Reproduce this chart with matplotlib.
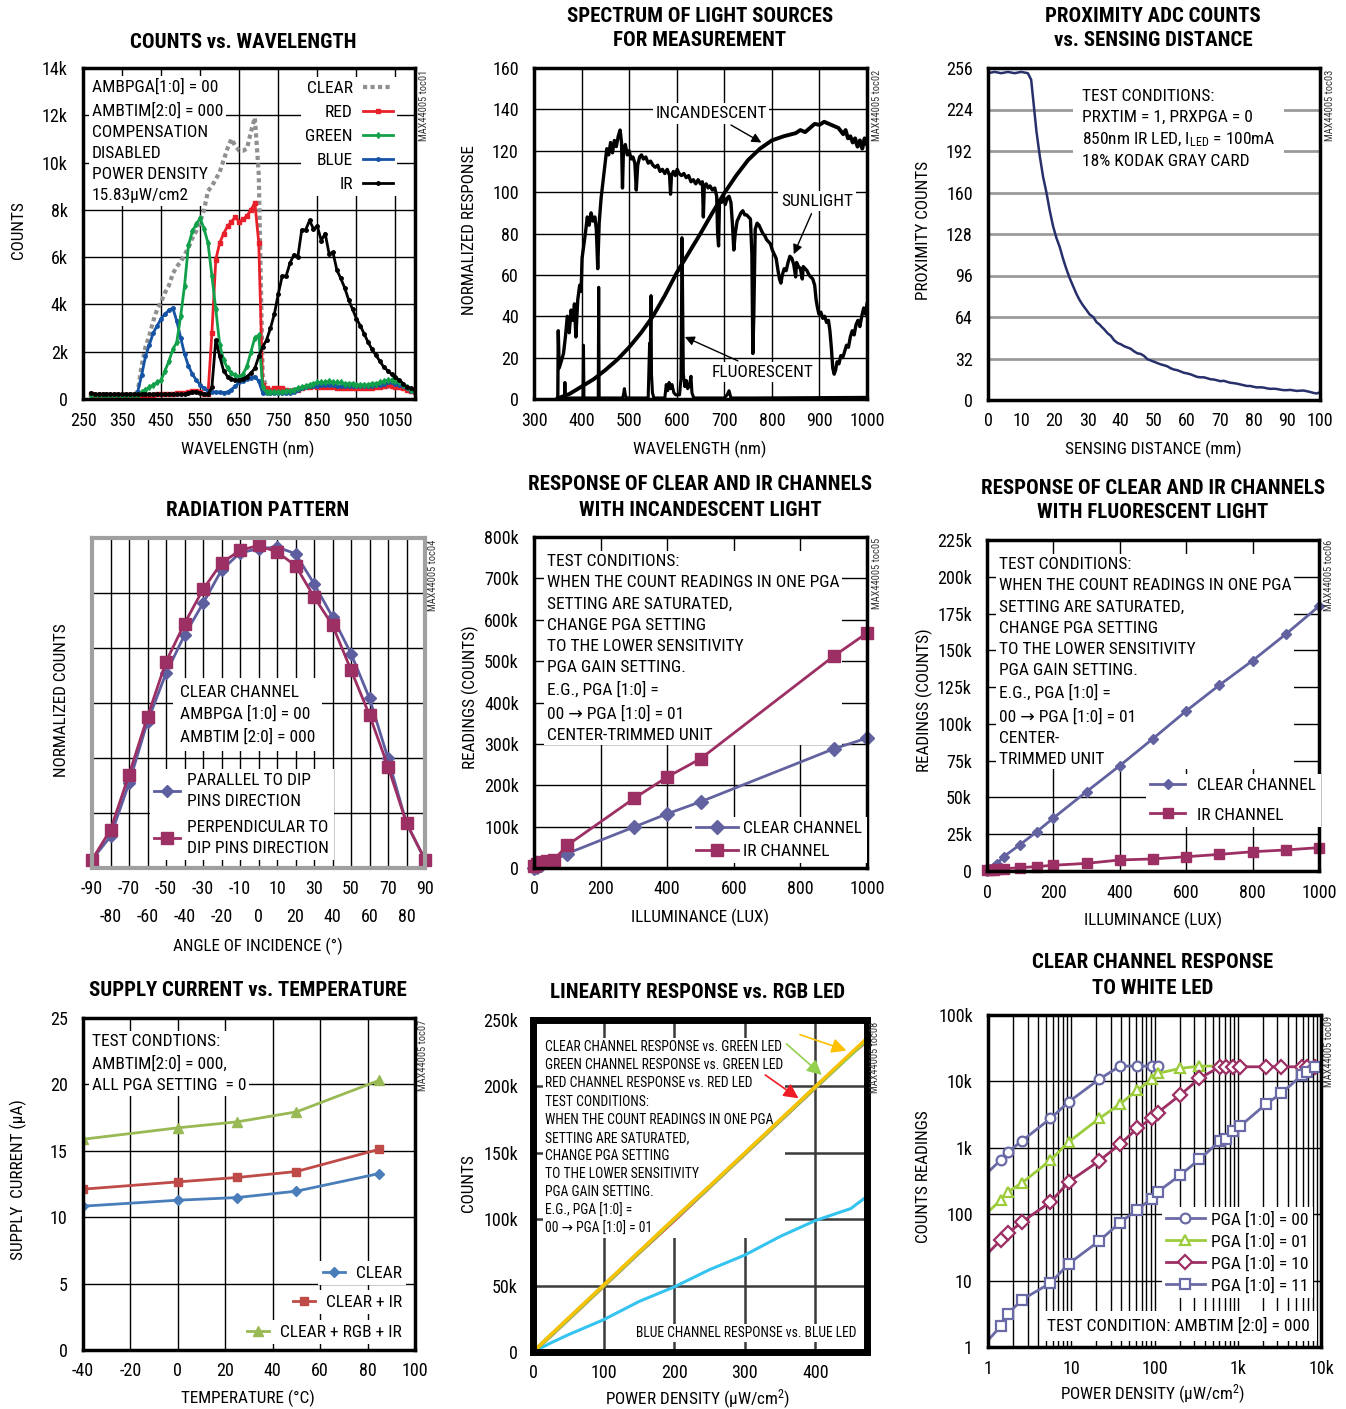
import matplotlib.pyplot as plt
from matplotlib import font_manager
from matplotlib.ticker import NullFormatter, LogLocator

# pick a condensed face if one is installed
entries = font_manager.fontManager.ttflist
names = {f.name for f in entries}
FONT, STRETCH = 'Liberation Sans', 'normal'
for p in ['Liberation Sans Narrow', 'Roboto Condensed', 'Open Sans Condensed',
          'Noto Sans Condensed', 'DejaVu Sans Condensed']:
    if p in names:
        FONT = p
        break
else:
    cond = {f.name for f in entries
            if str(f.stretch) in ('condensed', 'semi-condensed', 'extra-condensed', 'ultra-condensed')}
    for p in ['Roboto', 'Noto Sans', 'Open Sans', 'DejaVu Sans', 'Liberation Sans']:
        if p in cond:
            FONT, STRETCH = p, 'condensed'
            break
plt.rcParams['font.family'] = [FONT, 'DejaVu Sans']
plt.rcParams['font.stretch'] = STRETCH
plt.rcParams['axes.unicode_minus'] = False
plt.rcParams['mathtext.fontset'] = 'custom'
plt.rcParams['mathtext.rm'] = FONT
plt.rcParams['mathtext.it'] = FONT

# ---------------- data ----------------
# panel 1: counts vs wavelength (k counts)
WL = [270, 280, 290, 300, 310, 320, 330, 340, 350, 360,
      370, 380, 390, 400, 410, 420, 430, 440, 450, 460,
      470, 480, 490, 500, 510, 520, 530, 540, 550, 560,
      570, 580, 590, 600, 610, 620, 630, 640, 650, 660,
      670, 680, 690, 700, 710, 720, 730, 740, 750, 760,
      770, 780, 790, 800, 810, 820, 830, 840, 850, 860,
      870, 880, 890, 900, 910, 920, 930, 940, 950, 960,
      970, 980, 990, 1000, 1010, 1020, 1030, 1040, 1050, 1060,
      1070, 1080, 1090, 1100]
CLEAR_CNT = [0.2, 0.2, 0.2, 0.2, 0.2, 0.2, 0.2, 0.2, 0.2, 0.2,
             0.2, 0.2, 0.3, 1.4, 2.2, 2.7, 3.3, 3.8, 4.1, 4.5,
             4.8, 5.3, 5.6, 5.8, 6.1, 6.4, 6.8, 7.1, 7.5, 8.0,
             8.8, 9.0, 9.3, 9.6, 10.1, 10.6, 11.0, 10.7, 10.5, 10.5,
             10.6, 11.3, 11.9, 9.5, 1.0, 0.45, 0.4, 0.45, 0.45, 0.45,
             0.4, 0.35, 0.4, 0.4, 0.45, 0.5, 0.5, 0.5, 0.5, 0.5,
             0.5, 0.5, 0.5, 0.5, 0.5, 0.5, 0.5, 0.5, 0.5, 0.5,
             0.5, 0.5, 0.5, 0.5, 0.5, 0.5, 0.5, 0.5, 0.5, 0.5,
             0.4, 0.35, 0.3, 0.3]
RED_CNT = [0.2, 0.15, 0.15, 0.15, 0.15, 0.15, 0.15, 0.15, 0.15, 0.15,
           0.15, 0.15, 0.15, 0.15, 0.15, 0.15, 0.15, 0.2, 0.2, 0.2,
           0.2, 0.2, 0.25, 0.25, 0.25, 0.3, 0.35, 0.35, 0.3, 0.2,
           0.2, 2.8, 5.9, 6.6, 7.0, 7.3, 7.5, 7.7, 7.5, 7.6,
           7.75, 8.0, 8.3, 6.6, 0.6, 0.45, 0.4, 0.45, 0.45, 0.45,
           0.4, 0.35, 0.4, 0.4, 0.45, 0.5, 0.5, 0.55, 0.5, 0.5,
           0.5, 0.5, 0.5, 0.45, 0.45, 0.45, 0.45, 0.45, 0.45, 0.45,
           0.45, 0.45, 0.45, 0.5, 0.5, 0.55, 0.6, 0.55, 0.5, 0.5,
           0.45, 0.4, 0.35, 0.3]
GREEN_CNT = [0.15, 0.15, 0.15, 0.15, 0.15, 0.15, 0.15, 0.15, 0.15, 0.15,
             0.15, 0.15, 0.15, 0.3, 0.4, 0.5, 0.6, 0.7, 0.8, 1.2,
             1.6, 2.1, 2.4, 3.5, 4.8, 6.5, 7.1, 7.4, 7.65, 7.2,
             6.6, 5.2, 3.8, 2.3, 1.65, 1.3, 1.1, 1.0, 0.95, 1.05,
             1.4, 2.0, 2.6, 2.7, 0.5, 0.3, 0.3, 0.3, 0.3, 0.3,
             0.35, 0.35, 0.4, 0.45, 0.5, 0.55, 0.6, 0.65, 0.7, 0.7,
             0.7, 0.75, 0.7, 0.7, 0.7, 0.65, 0.65, 0.65, 0.6, 0.6,
             0.6, 0.6, 0.65, 0.65, 0.7, 0.75, 0.8, 0.8, 0.75, 0.7,
             0.6, 0.5, 0.4, 0.3]
BLUE_CNT = [0.15, 0.15, 0.15, 0.15, 0.15, 0.15, 0.15, 0.15, 0.15, 0.15,
            0.15, 0.15, 0.3, 1.0, 1.8, 2.3, 2.8, 3.1, 3.4, 3.6,
            3.75, 3.85, 3.3, 2.6, 1.9, 1.4, 1.05, 0.8, 0.6, 0.45,
            0.35, 0.3, 0.3, 0.28, 0.27, 0.3, 0.4, 0.55, 0.7, 0.75,
            0.85, 0.9, 0.95, 0.75, 0.25, 0.25, 0.25, 0.25, 0.25, 0.25,
            0.25, 0.25, 0.3, 0.4, 0.45, 0.5, 0.55, 0.55, 0.55, 0.6,
            0.6, 0.6, 0.6, 0.55, 0.55, 0.55, 0.55, 0.55, 0.55, 0.55,
            0.55, 0.55, 0.55, 0.6, 0.6, 0.65, 0.7, 0.7, 0.65, 0.6,
            0.55, 0.45, 0.35, 0.3]
IR_CNT = [0.25, 0.2, 0.2, 0.2, 0.2, 0.2, 0.2, 0.2, 0.2, 0.2,
          0.2, 0.2, 0.2, 0.2, 0.2, 0.2, 0.2, 0.2, 0.2, 0.2,
          0.2, 0.2, 0.2, 0.2, 0.2, 0.25, 0.3, 0.3, 0.25, 0.2,
          0.2, 0.5, 2.5, 1.8, 1.2, 0.95, 0.85, 0.8, 0.8, 0.85,
          0.95, 1.1, 1.3, 1.8, 2.2, 2.5, 3.0, 3.6, 4.45, 5.2,
          5.2, 5.75, 6.1, 6.0, 7.15, 7.15, 7.55, 7.2, 7.3, 6.7,
          7.0, 6.15, 6.2, 5.45, 5.1, 4.7, 4.2, 3.8, 3.4, 3.1,
          2.75, 2.4, 2.1, 1.85, 1.6, 1.35, 1.2, 1.05, 0.92, 0.8,
          0.65, 0.5, 0.45, 0.4]

# panel 2: spectrum of light sources
INC_WL = [350, 375, 400, 425, 450, 475, 500, 525, 550, 575, 600, 625, 650, 675,
          700, 725, 750, 775, 800, 825, 850, 860, 870, 880, 890, 900, 910, 920,
          930, 940, 950, 955, 960, 965, 970, 975, 980, 985, 990, 995, 1000]
INC_RESP = [0.3, 2.5, 6, 9.5, 14, 19, 25, 32, 40, 50, 61, 70.5, 80, 90,
            99.5, 108, 115.5, 121, 125, 127, 128.5, 130, 129, 131, 133, 132.5, 134, 133,
            132, 131, 128, 130, 126, 127, 124, 126, 122, 125, 121, 126, 123]
SUN_WL = [350, 351, 353, 357, 362, 366, 370, 374, 378, 382, 385, 388, 392, 396, 399,
          401, 405, 408, 412, 416, 420, 424, 428, 431, 434, 437, 441, 445, 449, 453,
          457, 461, 465, 469, 473, 477, 481, 484, 486, 488, 492, 496, 500, 504, 508,
          512, 515, 518, 522, 526, 530, 535, 540, 545, 550, 555, 560, 565, 570, 575,
          580, 585, 587, 589, 593, 597, 601, 605, 610, 615, 620, 625, 630, 635, 640,
          645, 650, 654, 656, 658, 662, 666, 670, 675, 680, 684, 686, 688, 690, 694,
          698, 702, 706, 710, 714, 717, 720, 723, 727, 731, 735, 739, 743, 747, 751,
          755, 758, 760, 762, 765, 769, 773, 777, 781, 785, 789, 793, 797, 801, 805,
          809, 813, 816, 819, 822, 826, 830, 834, 838, 842, 846, 850, 852, 856, 860,
          864, 866, 870, 874, 878, 882, 886, 890, 893, 896, 899, 903, 907, 911, 915,
          919, 922, 925, 928, 931, 934, 937, 941, 945, 949, 953, 957, 961, 965, 969,
          973, 977, 981, 985, 989, 993, 997, 1000]
SUN_RESP = [0, 33, 15, 18, 22, 30, 40, 32, 43, 38, 46, 30, 48, 55, 52,
            68, 75, 80, 88, 84, 90, 86, 88, 82, 63, 85, 97, 105, 113, 121,
            118, 124, 119, 125, 122, 127, 130, 124, 102, 120, 123, 118, 120, 116, 117,
            114, 101, 113, 117, 118, 116, 117, 114, 115, 113, 112, 113, 110, 111, 109,
            111, 108, 99, 108, 110, 108, 111, 109, 108, 109, 107, 108, 105, 106, 104,
            106, 104, 105, 88, 103, 104, 102, 103, 101, 102, 98, 80, 74, 96, 95,
            98, 94, 97, 98, 95, 85, 72, 80, 86, 88, 90, 91, 89, 89, 88,
            87, 70, 22, 40, 82, 85, 84, 82, 80, 79, 77, 76, 75, 72, 70,
            68, 62, 58, 56, 60, 63, 62, 66, 69, 68, 65, 59, 66, 64, 63,
            58, 64, 63, 62, 60, 59, 58, 55, 48, 44, 41, 42, 39, 40, 37,
            38, 33, 25, 15, 12, 14, 18, 17, 21, 20, 23, 26, 25, 30, 33,
            31, 36, 38, 35, 40, 44, 41, 46]
FLU_WL = [350, 364, 365, 366, 403, 404, 405, 435, 436, 437, 486, 488, 490, 492, 494,
          540, 543, 544, 545, 546, 547, 549, 552, 575, 578, 581, 584, 587, 590, 594,
          598, 606, 609, 611, 612, 614, 617, 620, 623, 626, 630, 632, 636, 700, 706,
          710, 714, 760, 1000]
FLU_RESP = [0.5, 0.5, 8, 0.5, 0.5, 26, 0.5, 0.5, 54, 0.5, 0.5, 2, 5, 2, 0.5,
            0.5, 27, 10, 35, 50, 12, 3, 0.5, 0.5, 7, 4, 8, 5, 7, 3,
            2, 2, 10, 78, 62, 12, 6, 9, 5, 6, 11, 3, 0.5, 0.5, 2,
            4, 0.5, 0.5, 0.8]

# panel 3: proximity counts vs distance
DIST = [0, 2, 4, 6, 8, 10, 12, 13, 13.6, 14.6, 15.6, 16.6, 17.6, 18.6, 19.6,
        20.6, 21.6, 22.6, 23.6, 24.6, 25.6, 26.6, 27.6, 28.6, 29.6, 30.6, 31.7,
        32.7, 33.7, 34, 35, 36, 37, 38, 39, 40, 41, 42, 43, 44, 45, 46, 47, 48,
        49, 50, 51, 52, 53, 54, 55, 56, 57, 58, 59, 60, 61, 62, 63, 64, 65, 66,
        67, 68, 69, 70, 71, 72, 73, 74, 75, 76, 77, 78, 79, 80, 81, 82, 83, 84,
        85, 86, 87, 88, 89, 90, 91, 92, 93, 94, 95, 96, 97, 98, 99, 100]
PROX = [252, 253, 252, 253, 252, 253, 252, 247, 232, 207, 188, 172, 160, 146, 134,
        125, 118, 109, 101, 94, 88, 82, 77, 73, 69.6, 66, 64,
        60, 58, 57, 54.5, 51.5, 49.5, 46, 44, 43, 41.5, 40.5, 39.5, 37.5, 36, 35.5, 34, 31.5,
        30.5, 29.5, 28.5, 27.5, 26.8, 26, 24.5, 23.5, 23, 22, 21, 20.5, 19.8, 18.8, 17.8, 17.5, 17.5, 16.8,
        16, 15.8, 15.2, 14.5, 14.8, 14, 13.3, 13, 12.6, 12, 11.4, 10.8, 10.8, 10.2, 9.7, 9.8, 9.6, 9,
        8.6, 8.7, 8.5, 8.0, 7.6, 7.6, 7.8, 7.4, 7.0, 7.2, 7.3, 6.8, 6.2, 5.5, 5.0, 6.0]

# panel 4: radiation pattern
ANGLE = [-90, -80, -70, -60, -50, -40, -30, -20, -10, 0, 10, 20, 30, 40, 50, 60, 70, 80, 90]
PARALLEL = [0.03, 0.115, 0.308, 0.532, 0.708, 0.847, 0.962, 1.083, 1.146, 1.161,
            1.167, 1.143, 1.034, 0.913, 0.78, 0.617, 0.399, 0.163, 0.03]
PERPEND = [0.03, 0.139, 0.339, 0.55, 0.75, 0.889, 1.013, 1.109, 1.155, 1.173,
           1.149, 1.10, 0.986, 0.883, 0.72, 0.556, 0.369, 0.163, 0.03]

# panel 5: incandescent light (k counts)
LUX5_CLEAR = [0, 10, 20, 50, 100, 300, 400, 500, 900, 1000]
CLEAR5 = [0, 3, 8, 15, 35, 99, 131, 160, 288, 314]
LUX5_IR = [0, 10, 20, 40, 60, 100, 300, 400, 500, 900, 1000]
IR5 = [5, 10, 15, 18, 20, 55, 168, 220, 264, 512, 568]

# panel 6: fluorescent light (k counts)
LUX6 = [0, 10, 20, 30, 50, 100, 150, 200, 300, 400, 500, 600, 700, 800, 900, 1000]
CLEAR6 = [0, 1.5, 3, 5, 9.7, 18, 26.7, 36, 54, 71.6, 90, 108.8, 126.4, 143, 161, 180]
IR6 = [0.5, 0.8, 1, 1.2, 1.5, 2.3, 3, 3.9, 5.2, 7.5, 8.2, 9.7, 11.3, 13.1, 14.3, 15.9]

# panel 7: supply current vs temperature
TEMP = [-40, 0, 25, 50, 85]
I_CLEAR = [10.83, 11.28, 11.48, 11.96, 13.29]
I_CLEAR_IR = [12.11, 12.66, 12.99, 13.44, 15.12]
I_CLEAR_RGB_IR = [15.87, 16.73, 17.18, 17.93, 20.31]

# panel 8: linearity vs RGB LED (k counts)
PD8 = [0, 25, 50, 75, 100, 150, 200, 250, 300, 350, 400, 450, 470]
LIN_CLEAR = [0, 13, 25.5, 38, 50.5, 75.5, 100.5, 125, 150, 175, 200, 225, 235]
LIN_GREEN = [0, 12.5, 25, 37.5, 50, 75, 100, 124.5, 149.5, 174.5, 199.5, 224, 234]
LIN_RED = [0, 12, 24.5, 37, 49.5, 74.5, 99, 124, 149, 174, 199, 224, 233]
PD8_BLUE = [0, 25, 50, 100, 150, 200, 250, 300, 350, 400, 450, 470]
LIN_BLUE = [0, 6.8, 13, 24.3, 38, 49, 62, 73, 87, 99, 108, 116]

# panel 9: clear channel response to white LED
PD9 = [1, 1.42, 1.74, 2.57, 5.63, 9.35, 21.7, 38.5, 62, 92.5, 109]
PGA00 = [430, 652, 871, 1276, 2768, 4935, 10800, 17000, 17000, 17000, 17000]
PD9_01 = [1, 1.42, 1.74, 2.57, 5.63, 9.35, 21.7, 38.5, 62, 92.5, 109, 203, 346, 600]
PGA01 = [108, 163, 217, 297, 652, 1231, 2768, 4550, 7400, 10700, 13200, 15700, 17000, 17000]
PD9_10 = [1, 1.42, 1.74, 2.57, 5.63, 9.35, 21.7, 38.5, 62, 92.5, 109, 203, 346,
          614, 726, 889, 1069, 2178, 3330, 5902, 6780, 8550]
PGA10 = [26, 40.5, 52, 76.6, 153, 307, 637, 1135, 1955, 2768, 3373, 6220, 11100,
         16600, 16600, 16600, 16600, 16600, 16600, 16600, 16600, 16600]
PD9_11 = [1, 1.42, 1.74, 2.57, 5.63, 9.35, 21.7, 38.5, 62, 92.5, 109, 203, 346,
          614, 726, 889, 1069, 2178, 3330, 5902, 6780, 8550]
PGA11 = [1.26, 2.05, 3.18, 5.17, 9.2, 18, 39.6, 74.8, 117, 172, 217, 387, 667,
         1276, 1380, 1803, 2122, 4550, 6590, 12400, 14000, 16600]

# ---------------- figure helpers ----------------
W, H = 1346, 1409
fig = plt.figure(figsize=(W / 100, H / 100), dpi=100)
fig.patch.set_facecolor('white')

TICK = 13
LAB = 12.3
NOTE = 12.5
LS = 1.52
BOX = dict(boxstyle='square,pad=0.15', fc='white', ec='none')


def add_ax(x0, y0, x1, y1, lw=2.5, color='black'):
    ax = fig.add_axes([x0 / W, 1 - y1 / H, (x1 - x0) / W, (y1 - y0) / H])
    for sp in ax.spines.values():
        sp.set_linewidth(lw)
        sp.set_color(color)
        sp.set_zorder(4)
    ax.tick_params(length=0, labelsize=TICK)
    ax.tick_params(axis='x', pad=9)
    ax.tick_params(axis='y', pad=11)
    ax.set_axisbelow(True)
    return ax


def ftext(x, y, s, **kw):
    return fig.text(x / W, 1 - y / H, s, **kw)


def atext(ax, x, y, s, **kw):
    kw.setdefault('fontsize', NOTE)
    kw.setdefault('zorder', 1.5)
    kw.setdefault('linespacing', LS)
    return ax.text(x / W, 1 - y / H, s, transform=fig.transFigure, **kw)


def title(x, ys, lines):
    for y, s in zip(ys, lines):
        ftext(x, y, s, fontsize=15, fontweight='black', ha='center', va='center')


def xlabel(x, y, s):
    ftext(x, y, s, fontsize=LAB, ha='center', va='center')


def ylabel(x, y, s):
    ftext(x, y, s, fontsize=LAB, ha='center', va='center', rotation=90)


def mark(x, y, s):
    ftext(x, y, s, fontsize=7.5, ha='center', va='top', rotation=90, color='#333333')


def fig_anchor(x, y):
    return dict(bbox_to_anchor=(x / W, 1 - y / H), bbox_transform=fig.transFigure)


LEG = dict(frameon=True, fancybox=False, edgecolor='none', framealpha=1, fontsize=NOTE,
           borderpad=0.25, borderaxespad=0)

# ---------------- panel 1 ----------------
ax1 = add_ax(83, 68, 415, 399)
ax1.plot(WL, CLEAR_CNT, color='#8f8f8f', lw=3, ls=(0, (1, 0.8)), label='CLEAR')
ax1.plot(WL, RED_CNT, color='#e8202a', lw=2, marker='s', ms=3, label='RED')
ax1.plot(WL, BLUE_CNT, color='#1553a5', lw=2, marker='o', ms=2.5, label='BLUE')
ax1.plot(WL, GREEN_CNT, color='#12a04a', lw=2, marker='d', ms=3, label='GREEN')
ax1.plot(WL, IR_CNT, color='black', lw=2, marker='o', ms=2.5, label='IR')
ax1.set_xlim(250, 1100)
ax1.set_ylim(0, 14)
ax1.set_xticks([250, 350, 450, 550, 650, 750, 850, 950, 1050],
               ['250', '350', '450', '550', '650', '750', '850', '950', '1050'])
ax1.set_yticks([0, 2, 4, 6, 8, 10, 12, 14], ['0', '2k', '4k', '6k', '8k', '10k', '12k', '14k'])
ax1.grid(color='black', lw=1)
h1, l1 = ax1.get_legend_handles_labels()
order = [0, 1, 3, 2, 4]
ax1.legend([h1[i] for i in order], [l1[i] for i in order], loc='upper right',
           markerfirst=False, handlelength=1.7, handletextpad=0.6, labelspacing=0.5,
           **fig_anchor(397, 77), **LEG)
atext(ax1, 92, 79, 'AMBPGA[1:0] = 00\nAMBTIM[2:0] = 000\nCOMPENSATION\nDISABLED\n'
      'POWER DENSITY\n15.83\u03bcW/cm2', va='top', ha='left', bbox=BOX)
title(243, [42], ['COUNTS vs. WAVELENGTH'])
xlabel(248, 449, 'WAVELENGTH (nm)')
ylabel(18, 230, 'COUNTS')
mark(424, 70, 'MAX44005 toc01')

# ---------------- panel 2 ----------------
ax2 = add_ax(534, 68, 867, 399)
ax2.plot(INC_WL, INC_RESP, color='black', lw=2.8)
ax2.plot(SUN_WL, SUN_RESP, color='black', lw=2.4)
ax2.plot(FLU_WL, FLU_RESP, color='black', lw=2.2)
ax2.set_xlim(300, 1000)
ax2.set_ylim(0, 160)
ax2.set_xticks(range(300, 1001, 100))
ax2.set_yticks(range(0, 161, 20))
ax2.grid(color='black', lw=1)
ARW = dict(arrowstyle='-|>', color='black', lw=1, mutation_scale=14, shrinkB=0)
ax2.annotate('INCANDESCENT', xy=(778, 124), xytext=(672, 138), ha='center', va='center',
             fontsize=NOTE, bbox=BOX, arrowprops=ARW, zorder=3)
ax2.annotate('SUNLIGHT', xy=(846, 70), xytext=(895, 95.7), ha='center', va='center',
             fontsize=NOTE, bbox=BOX, arrowprops=ARW, zorder=3)
ax2.annotate('FLUORESCENT', xy=(617, 30), xytext=(781, 13), ha='center', va='center',
             fontsize=NOTE, bbox=BOX, arrowprops=ARW, zorder=3)
title(700, [16, 41], ['SPECTRUM OF LIGHT SOURCES', 'FOR MEASUREMENT'])
xlabel(700, 449, 'WAVELENGTH (nm)')
ylabel(470, 230, 'NORMALIZED RESPONSE')
mark(877, 70, 'MAX44005 toc02')

# ---------------- panel 3 ----------------
ax3 = add_ax(988, 68, 1320, 400)
ax3.plot(DIST, PROX, color='#27306b', lw=1.8)
ax3.set_xlim(0, 100)
ax3.set_ylim(0, 256)
ax3.set_xticks(range(0, 101, 10))
ax3.set_yticks(range(0, 257, 32))
ax3.grid(axis='y', color='#9a9a9a', lw=2)
atext(ax3, 1082, 89, 'TEST CONDITIONS:\nPRXTIM = 1, PRXPGA = 0\n'
      '850nm IR LED, I$_{\\mathrm{LED}}$ = 100mA\n18% KODAK GRAY CARD',
      va='top', ha='left', linespacing=1.45,
      bbox=dict(boxstyle='square,pad=0.5', fc='white', ec='none'))
title(1153, [16, 41], ['PROXIMITY ADC COUNTS', 'vs. SENSING DISTANCE'])
xlabel(1153, 449, 'SENSING DISTANCE (mm)')
ylabel(924, 230, 'PROXIMITY COUNTS')
mark(1330, 70, 'MAX44005 toc03')

# ---------------- panel 4 ----------------
ax4 = add_ax(92, 538, 425, 868, lw=3, color='#a0a0a0')
ax4.plot(ANGLE, PARALLEL, color='#5d5ea0', lw=2, marker='D', ms=6,
         label='PARALLEL TO DIP\nPINS DIRECTION', clip_on=False)
ax4.plot(ANGLE, PERPEND, color='#9c2f63', lw=2, marker='s', ms=8.5,
         label='PERPENDICULAR TO\nDIP PINS DIRECTION', clip_on=False)
ax4.set_xlim(-90, 90)
ax4.set_ylim(0, 1.2)
ax4.set_xticks([-90, -70, -50, -30, -10, 10, 30, 50, 70, 90],
               ['-90', '-70', '-50', '-30', '-10', '10', '30', '50', '70', '90'])
ax4.set_xticks([-80, -60, -40, -20, 0, 20, 40, 60, 80],
               ['-80', '-60', '-40', '-20', '0', '20', '40', '60', '80'], minor=True)
ax4.tick_params(axis='x', which='both', length=0, labelsize=TICK)
ax4.tick_params(axis='x', which='minor', pad=29)
ax4.set_yticks([0.2, 0.4, 0.6, 0.8, 1.0])
ax4.tick_params(axis='y', labelleft=False)
ax4.grid(which='both', color='black', lw=1)
atext(ax4, 180, 685, 'CLEAR CHANNEL\nAMBPGA [1:0] = 00\nAMBTIM [2:0] = 000',
      va='top', ha='left', linespacing=1.45,
      bbox=dict(boxstyle='square,pad=0.4', fc='white', ec='none'))
leg4 = ax4.legend(loc='upper left', handlelength=1.5, handletextpad=0.4, labelspacing=0.6,
                  **fig_anchor(150, 769), **LEG)
for t in leg4.get_texts():
    t.set_linespacing(1.5)
title(258, [511], ['RADIATION PATTERN'])
xlabel(258, 946, 'ANGLE OF INCIDENCE (\u00b0)')
ylabel(62, 700, 'NORMALIZED COUNTS')
mark(433, 540, 'MAX44005 toc04')

# ---------------- panel 5 ----------------
NOTE_PGA = ('TEST CONDITIONS:\nWHEN THE COUNT READINGS IN ONE PGA\nSETTING ARE SATURATED,\n'
            'CHANGE PGA SETTING\nTO THE LOWER SENSITIVITY\nPGA GAIN SETTING.\n'
            'E.G., PGA [1:0] =\n00 \u2192 PGA [1:0] = 01\n')
ax5 = add_ax(534, 537, 867, 868)
ax5.plot(LUX5_CLEAR, CLEAR5, color='#6262a0', lw=2, marker='D', ms=7, label='CLEAR CHANNEL', clip_on=False)
ax5.plot(LUX5_IR, IR5, color='#9c2f63', lw=2, marker='s', ms=8, label='IR CHANNEL', clip_on=False)
ax5.set_xlim(0, 1000)
ax5.set_ylim(0, 800)
ax5.set_xticks(range(0, 1001, 200))
ax5.set_yticks(range(0, 801, 100), ['0', '100k', '200k', '300k', '400k', '500k', '600k', '700k', '800k'])
ax5.grid(color='black', lw=1)
atext(ax5, 547, 554, NOTE_PGA + 'CENTER-TRIMMED UNIT', va='top', ha='left', bbox=BOX)
ax5.legend(loc='upper left', handlelength=2.4, handletextpad=0.3, labelspacing=0.4,
           **fig_anchor(692, 817), **LEG)
title(700, [484, 510], ['RESPONSE OF CLEAR AND IR CHANNELS', 'WITH INCANDESCENT LIGHT'])
xlabel(700, 917, 'ILLUMINANCE (LUX)')
ylabel(470, 697, 'READINGS (COUNTS)')
mark(877, 538, 'MAX44005 toc05')

# ---------------- panel 6 ----------------
ax6 = add_ax(987, 540, 1319, 871)
ax6.plot(LUX6, CLEAR6, color='#6262a0', lw=2, marker='D', ms=5.5, label='CLEAR CHANNEL', clip_on=False)
ax6.plot(LUX6, IR6, color='#9c2f63', lw=2, marker='s', ms=7, label='IR CHANNEL', clip_on=False)
ax6.set_xlim(0, 1000)
ax6.set_ylim(0, 225)
ax6.set_xticks(range(0, 1001, 200))
ax6.set_yticks(range(0, 226, 25), ['0', '25k', '50k', '75k', '100k', '125k', '150k', '175k', '200k', '225k'])
ax6.grid(color='black', lw=1)
atext(ax6, 999, 557, NOTE_PGA + 'CENTER-\nTRIMMED UNIT', va='top', ha='left', bbox=BOX)
ax6.legend(loc='upper left', handlelength=2.0, handletextpad=0.7, labelspacing=0.8,
           **fig_anchor(1146, 774), **LEG)
title(1153, [488, 513], ['RESPONSE OF CLEAR AND IR CHANNELS', 'WITH FLUORESCENT LIGHT'])
xlabel(1153, 920, 'ILLUMINANCE (LUX)')
ylabel(924, 700, 'READINGS (COUNTS)')
mark(1329, 540, 'MAX44005 toc06')

# ---------------- panel 7 ----------------
ax7 = add_ax(83, 1018, 415, 1350)
l7a, = ax7.plot(TEMP, I_CLEAR, color='#4a7ebb', lw=2, marker='D', ms=5.5, label='CLEAR')
l7b, = ax7.plot(TEMP, I_CLEAR_IR, color='#be4b48', lw=2, marker='s', ms=6, label='CLEAR + IR')
l7c, = ax7.plot(TEMP, I_CLEAR_RGB_IR, color='#98b954', lw=2, marker='^', ms=7.5, label='CLEAR + RGB + IR')
ax7.set_xlim(-40, 100)
ax7.set_ylim(0, 25)
ax7.set_xticks(range(-40, 101, 20))
ax7.set_yticks(range(0, 26, 5))
ax7.grid(color='black', lw=1)
for h, y in [(l7a, 1273), (l7b, 1302), (l7c, 1332)]:
    leg = ax7.legend(handles=[h], loc='center right', handlelength=1.3, handletextpad=0.6,
                     **fig_anchor(406, y), **LEG)
    ax7.add_artist(leg)
ax7.legend_ = None
atext(ax7, 92, 1034, 'TEST CONDTIONS:\nAMBTIM[2:0] = 000,\nALL PGA SETTING  = 0',
      va='top', ha='left', bbox=BOX)
title(248, [991], ['SUPPLY CURRENT vs. TEMPERATURE'])
xlabel(248, 1398, 'TEMPERATURE (\u00b0C)')
ylabel(18, 1180, 'SUPPLY  CURRENT (\u03bcA)')
mark(423, 1020, 'MAX44005 toc07')

# ---------------- panel 8 ----------------
ax8 = add_ax(533, 1020, 867, 1352, lw=5)
ax8.plot(PD8_BLUE, LIN_BLUE, color='#35c3ef', lw=2.2)
ax8.plot(PD8, LIN_RED, color='#ee1c25', lw=2.5)
ax8.plot(PD8, LIN_GREEN, color='#92d050', lw=3)
ax8.plot(PD8, LIN_CLEAR, color='#ffc000', lw=2.2)
ax8.set_xlim(0, 473)
ax8.set_ylim(0, 250)
ax8.set_xticks([0, 100, 200, 300, 400])
ax8.set_yticks(range(0, 251, 50), ['0', '50k', '100k', '150k', '200k', '250k'])
ax8.grid(color='#3a3a3a', lw=1.8)
for (x0, y0), (x1, y1), c in [((378, 239), (444, 227), '#ffc000'),
                              ((359, 232), (409, 208.6), '#92d050'),
                              ((329, 208.6), (376, 191), '#ee1c25')]:
    ax8.annotate('', xy=(x1, y1), xytext=(x0, y0),
                 arrowprops=dict(arrowstyle='-|>', color=c, lw=1.2, mutation_scale=22,
                                 shrinkA=0, shrinkB=0))
atext(ax8, 545, 1040, 'CLEAR CHANNEL RESPONSE vs. GREEN LED\nGREEN CHANNEL RESPONSE vs. GREEN LED\n'
      'RED CHANNEL RESPONSE vs. RED LED\n' + NOTE_PGA.rstrip('\n'),
      fontsize=9.8, va='top', ha='left', linespacing=1.38, bbox=BOX)
atext(ax8, 856, 1333, 'BLUE CHANNEL RESPONSE vs. BLUE LED', fontsize=9.8, va='center', ha='right', bbox=BOX)
title(698, [993], ['LINEARITY RESPONSE vs. RGB LED'])
xlabel(698, 1399, 'POWER DENSITY (\u03bcW/cm$^2$)')
ylabel(468, 1183, 'COUNTS')
mark(875, 1022, 'MAX44005 toc08')

# ---------------- panel 9 ----------------
ax9 = add_ax(988, 1015, 1321, 1347)
ax9.set_xscale('log')
ax9.set_yscale('log')
OPEN = dict(lw=2, ms=7, mfc='white', mew=1.6)
ax9.plot(PD9, PGA00, color='#6a6aa6', marker='o', markevery=slice(1, None), label='PGA [1:0] = 00', **OPEN)
ax9.plot(PD9_01, PGA01, color='#9ccc3c', marker='^', markevery=slice(1, -1), label='PGA [1:0] = 01', **OPEN)
ax9.plot(PD9_10, PGA10, color='#9c2f63', marker='D', markevery=slice(1, None), label='PGA [1:0] = 10', **OPEN)
ax9.plot(PD9_11, PGA11, color='#6a6aa6', marker='s', markevery=slice(1, None), label='PGA [1:0] = 11', **OPEN)
ax9.set_xlim(1, 10000)
ax9.set_ylim(1, 100000)
ax9.set_xticks([1, 10, 100, 1000, 10000], ['1', '10', '100', '1k', '10k'])
ax9.set_yticks([1, 10, 100, 1000, 10000, 100000], ['1', '10', '100', '1k', '10k', '100k'])
ax9.xaxis.set_minor_locator(LogLocator(base=10, subs=[2, 3, 4, 5, 6, 7, 8, 9]))
ax9.xaxis.set_minor_formatter(NullFormatter())
ax9.yaxis.set_minor_formatter(NullFormatter())
ax9.tick_params(which='minor', length=0)
ax9.grid(which='major', color='black', lw=1)
ax9.grid(which='minor', axis='x', color='black', lw=1)
ax9.legend(loc='upper left', handlelength=2.2, handletextpad=0.4, labelspacing=0.33,
           **fig_anchor(1162, 1207), **LEG)
atext(ax9, 1310, 1326, 'TEST CONDITION: AMBTIM [2:0] = 000', va='center', ha='right',
      bbox=dict(boxstyle='square,pad=0.4', fc='white', ec='none'))
title(1153, [962, 988], ['CLEAR CHANNEL RESPONSE', 'TO WHITE LED'])
xlabel(1153, 1394, 'POWER DENSITY (\u03bcW/cm$^2$)')
ylabel(924, 1177, 'COUNTS READINGS')
mark(1329, 1016, 'MAX44005 toc09')

fig.savefig('out.png', dpi=100)
